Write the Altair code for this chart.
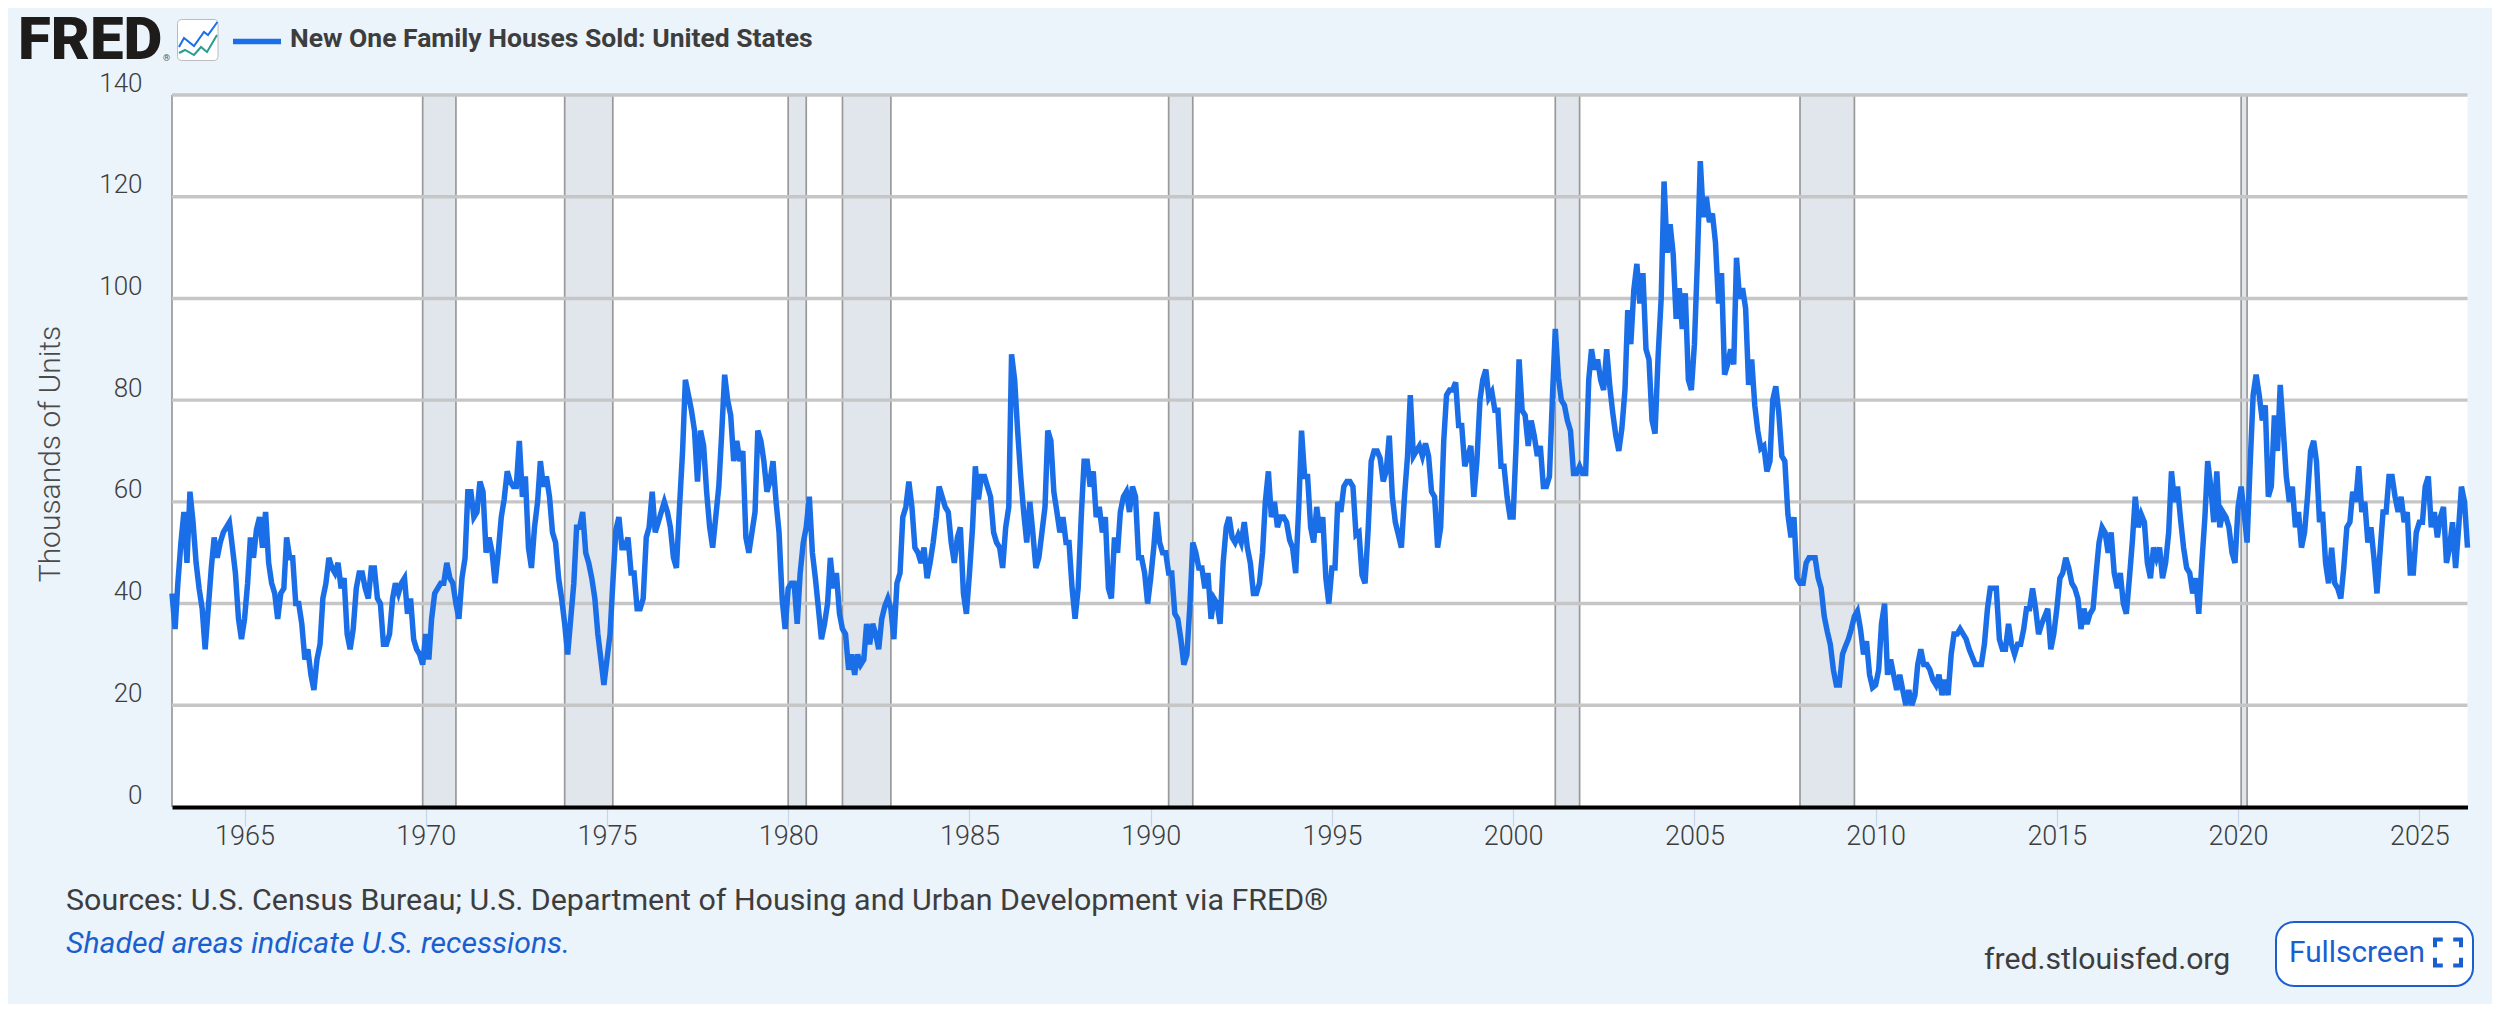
import altair as alt
import pandas as pd

# ---- monthly values (thousands of units) ----
y1963 = [42,35,44,52,58,48,62,56,48,43,39,31]
y1964 = [39,47,53,49,52,54,55,56,51,46,37,33]
y1965 = [37,44,53,49,54.5,57,51,58,48,44,42,37]
y1966 = [42,43,53,49,49,40,40,36,29,31,26,23]
y1967 = [29,32,41,44,49,47,46,48,43,45,34,31]
y1968 = [35,43,46,46,43,41,47,47,41,40,32,32]
y1969 = [34,41,44,42,44,45,38,41,33,31,30,28]
y1970 = [34,29,37,42,43,44,44,48,45,44,40,37]
y1971 = [45,49,62,62,57,58,64,62,50,53,50,44]
y1972 = [50,57,60.5,66,64,63,63,72,61,65,51,47]
y1973 = [55,60,68,63,65,61,54,52,45,41,36,30]
y1974 = [37,44,55,55,58,50,48,45,41,34,29,24]
y1975 = [29,34,44,54.5,57,51,51,53,46,46,39,39]
y1976 = [41,53,55,62,54,56,58,60,58,55,49,47]
y1977 = [59,70,84,81,78,74,64,74,71,62,55,51]
y1978 = [57,63,73,85,80,77,68,72,68,70,53,50]
y1979 = [54,58,74,72,68,62,64,68,60,54,41,35]
y1980 = [43,44,44,36,46,52,55,61,50,45,39,33]
y1981 = [36,40,49,43,46,38,35,34,27,30,26,30]
y1982 = [28,29,36,32,36,34,31,37,39.5,41,39,33]
y1983 = [44,46,57,59,64,59,51,50,48,51,45,48]
y1984 = [52,57,63,61,59,58,52,48,53,55,42,38]
y1985 = [46,55,67,60.5,65,65,63,61,54,52,51,47]
y1986 = [55,59,89,84,74,65,58,52,60,54,47,49]
y1987 = [54,59,74,72,62,58,54,57,52,52,43,37]
y1988 = [43,57,68,68,63,66,57,59,54,57,43,41]
y1989 = [53,50,58,61,62,58,63,61,49,49,46,40]
y1990 = [45,51,58,52,50,50,46,46,38,37,33,28]
y1991 = [30,40,52,50,47,47,43,46,37,41,40,36]
y1992 = [48,55,57,53,52,53.5,52,56,51,48,42,42]
y1993 = [44,50,60,66,57,60,55,57,57,56,52.5,51]
y1994 = [46,59,74,65,65,55,52,59,54,57,45,40]
y1995 = [47,47,60,58,63,64,64,63,53.5,54,45.6,44]
y1996 = [54.5,68,70,70,68.6,64,66,73,61,56,53.5,51]
y1997 = [61,69,81,69,70,71,69,71.5,69,62,61,51]
y1998 = [55,72,81,82,82,83.5,75,75,67,69,71,61]
y1999 = [68,80,84,86,80.5,81.6,78,78,67,67,61,57]
y2000 = [57,71.5,88,78,77,71,76,73,69,71,63,63]
y2001 = [65,81,94,84.5,80,79,76,74,65.6,65.6,67,65.6]
y2002 = [65.6,84,90,86,88,84,82,90,82.7,77.5,73,70]
y2003 = [74.5,82,97.7,91,101.6,106.8,99,105,90,88,76,73.4]
y2004 = [88.6,100,123,109,114.6,108.7,96,102,94,101,84,82]
y2005 = [91,108,127,116,120,115,116.7,111,99,105,85,87]
y2006 = [90,87,108,100,102,98,83,88,79,74,70.5,71]
y2007 = [66,68,80,82.7,77.5,69,68,57.5,53,57,45,44]
y2008 = [44,48,49,49,49,45,43,37.5,34.5,32,27,24]
y2009 = [24,30,31.5,33,35,37.5,38.5,35,30,32.6,26,23.5]
y2010 = [24,27,36,40,26,29,26,23,26,23,20,23]
y2011 = [20,22,28,31,28,28,27,25,24,26,22,25]
y2012 = [22,30,34,34,35,34,33,31,29.5,28,28,28]
y2013 = [32,39,43,43,43,33,31,31,36,32,30,32]
y2014 = [32,35,39,39,43,39,34,36,37.5,39,31,34]
y2015 = [39,45,46,49,47,44,43,41,35,39,36,38]
y2016 = [39,46,52,55,54,50,54,46,43,46,40,38]
y2017 = [45,52.5,61,55,57.5,56,48,45,51,49,51,45]
y2018 = [48,54,66,60,63,56.5,51,47,46,42,45,38]
y2019 = [48,57,68,63,56,66,55,58,57,55,50,48]
y2020 = [59,63,58,52,67,81,85,81,76,79,61,63]
y2021 = [77,70,83,74,65,60,63,55,58,51,54,61]
y2022 = [70,72,68,56,58,48,44,51,44,43,41,47]
y2023 = [55,56,62,60,67,58,60,52,55,49,42,50]
y2024 = [58,58,65,65,61,58,61,56,58,46,46,54]
y2025 = [56,56,63,65,55,58,53,57,59,48,51,56]
y2026 = [47,55,63,60,51]

rec_start = ["1969-12-01","1973-11-01","1980-01-01","1981-07-01","1990-07-01","2001-03-01","2007-12-01","2020-02-01"]
rec_end   = ["1970-11-01","1975-03-01","1980-07-01","1982-11-01","1991-03-01","2001-11-01","2009-06-01","2020-04-01"]
y_ticks = [0,20,40,60,80,100,120,140]
x_years = [1965,1970,1975,1980,1985,1990,1995,2000,2005,2010,2015,2020,2025]

series_title = "New One Family Houses Sold: United States"
y_title = "Thousands of Units"
source_text = "Sources: U.S. Census Bureau; U.S. Department of Housing and Urban Development via FRED®"
shade_text = "Shaded areas indicate U.S. recessions."
site_text = "fred.stlouisfed.org"
button_text = "Fullscreen"

# ---- assemble ----
values = []
for yr in range(1963, 2027):
    values += globals()[f"y{yr}"]
dates = pd.date_range("1963-01-01", periods=len(values), freq="MS").strftime("%Y-%m-%d").tolist()
line_df = pd.DataFrame({"date": dates, "value": values})
rec_df = pd.DataFrame({"start": rec_start, "end": rec_end})
grid_df = pd.DataFrame({"v": y_ticks})

BG = "#ebf3fb"
BLUE = "#1a6fe8"
LINK = "#1a5fd0"
TXT = "#3d3d3d"
FONT = "Roboto"
L, T = 172, 95          # page position of the plot origin
W, H = 2295.5, 712

def px(x): return alt.value(x - L)
def py(y): return alt.value(y - T)

xscale = alt.Scale(domain=[alt.DateTime(year=1963, month=1, date=1),
                           alt.DateTime(year=2026, month=5, date=1)])
yscale = alt.Scale(domain=[0, 140], nice=False, zero=True)

xaxis = alt.Axis(
    values=[alt.DateTime(year=y, month=1, date=1) for y in x_years], title=None, zindex=1,
    format="%Y", grid=False, domainColor="#000000", domainWidth=4,
    tickColor="#c6d5ea", tickWidth=1.2, tickSize=19, labelPadding=-3,
    labelFont=FONT, labelFontSize=27, labelFontWeight=300, labelColor=TXT,
    labelFlush=False, labelOverlap=False, labelBound=False)
yaxis = alt.Axis(
    values=y_ticks, title=None, grid=False, domain=False, ticks=False, labelPadding=30,
    labelOffset=-12, labelFont=FONT, labelFontSize=26, labelFontWeight=300,
    labelColor=TXT, labelOverlap=False, labelBound=False, labelFlush=False)

one = alt.Data(values=[{}])

shade = alt.Chart(rec_df).mark_rect(fill="#e1e6ed").encode(
    x=alt.X("start:T", scale=xscale, axis=xaxis), x2="end:T")
edge1 = alt.Chart(rec_df).mark_rule(color="#999999", strokeWidth=1.7).encode(
    x=alt.X("start:T", scale=xscale, axis=xaxis))
edge2 = alt.Chart(rec_df).mark_rule(color="#999999", strokeWidth=1.7).encode(
    x=alt.X("end:T", scale=xscale, axis=xaxis))
left = alt.Chart(one).mark_rule(color="#999999", strokeWidth=1.7).encode(
    x=alt.value(0), y=alt.value(0), y2=alt.value(H))
grid = alt.Chart(grid_df[grid_df.v > 0]).mark_rule(color="#c6c6c6", strokeWidth=3.4).encode(
    y=alt.Y("v:Q", scale=yscale, axis=yaxis))

line = alt.Chart(line_df).mark_line(color=BLUE, strokeWidth=5.5, strokeJoin="miter", strokeMiterLimit=4).encode(
    x=alt.X("date:T", scale=xscale, axis=xaxis),
    y=alt.Y("value:Q", scale=yscale, axis=yaxis))

def text(s, x, y, size, color=TXT, weight=400, style="normal", align="left", angle=0):
    return alt.Chart(one).mark_text(text=s, font=FONT, fontSize=size, color=color, fontWeight=weight,
                                    fontStyle=style, align=align, baseline="middle", angle=angle).encode(
        x=px(x), y=py(y))

def glyph(path, cx, cy, half, color, sw):
    return alt.Chart(one).mark_point(shape=path, size=(2 * half) ** 2, filled=False, stroke=color,
                                     strokeWidth=sw, opacity=1).encode(x=px(cx), y=py(cy))

def box(x0, x1, y0, y1, fill, stroke, sw, r):
    return alt.Chart(one).mark_rect(fill=fill, stroke=stroke, strokeWidth=sw, cornerRadius=r).encode(
        x=px(x0), x2=px(x1), y=py(y0), y2=py(y1))

legend_key = alt.Chart(one).mark_rule(color=BLUE, strokeWidth=5.5).encode(
    x=px(233), x2=px(281), y=py(41.5))

decor = [
    text("FRED", 18, 41, 60, color="#1e1b1b", weight=900),
    text("®", 163, 58, 9, color="#555555"),
    box(177.5, 218, 19.5, 60.5, "#ffffff", "#bbbbbb", 1, 4),
    glyph("M-0.95,0.35L-0.7,-0.1L-0.2,0.3L0.3,-0.4L0.5,-0.25L0.97,-0.9", 198, 40, 20, BLUE, 2),
    glyph("M-0.95,0.65L-0.65,0.5L-0.2,0.75L0.15,0.35L0.45,0.6L0.95,-0.25", 198, 40, 20, "#2a9d8f", 2),
    legend_key,
    text(series_title, 290, 38.5, 26.5, weight=700),
    text(y_title, 51, 454, 30, color="#4a4a4a", weight=300, angle=270, align="center"),
    text(source_text, 66, 901, 30.4),
    text(shade_text, 66, 944, 30.2, color=LINK, style="italic"),
    text(site_text, 1984, 960, 30.2),
    box(2276, 2473, 922, 986, "#ffffff", LINK, 2, 18),
    text(button_text, 2289, 953, 29.8, color=LINK),
    glyph("M-1,-0.4L-1,-1L-0.4,-1M0.4,-1L1,-1L1,-0.4M1,0.4L1,1L0.4,1M-0.4,1L-1,1L-1,0.4", 2448, 952.5, 13, LINK, 4),
]

chart = alt.layer(shade, edge1, edge2, left, grid, line, *decor).properties(
    width=W, height=H,
    padding={"left": 164, "top": 87, "right": 24.5, "bottom": 197},
    autosize=alt.AutoSizeParams(type="none"),
    background=BG,
).configure_view(fill="#ffffff", stroke=None)

chart.save("out.html", embed_options={"renderer": "svg", "actions": False})
